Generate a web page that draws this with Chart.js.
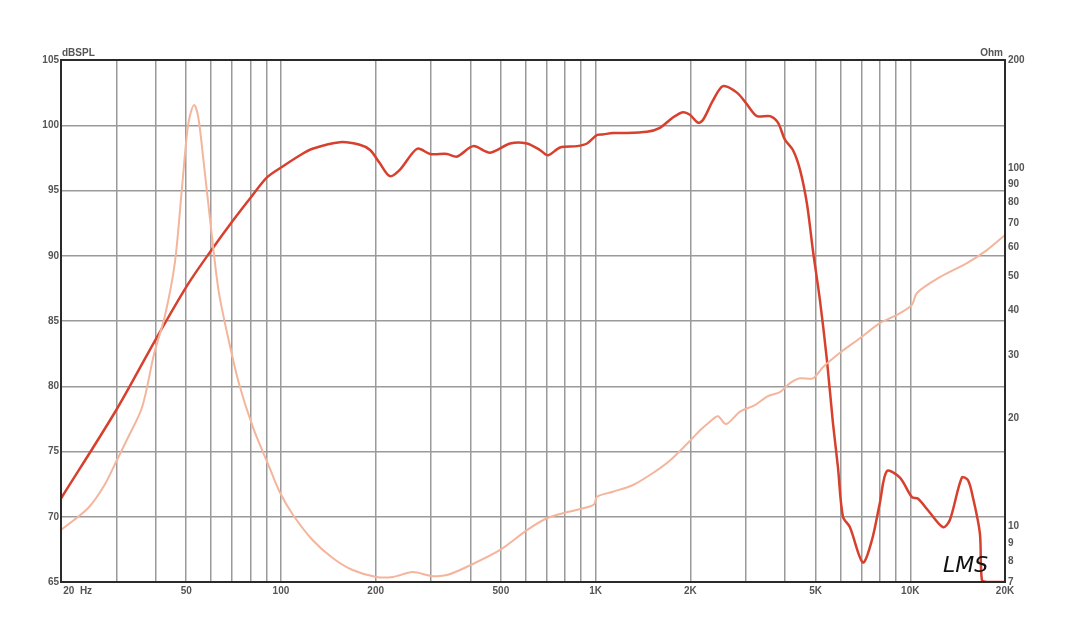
<!DOCTYPE html>
<html>
<head>
<meta charset="utf-8">
<script src="https://cdn.jsdelivr.net/npm/chart.js@4"></script>
<style>
  body { margin: 0; background: #fff; }
  #wrap { width: 1067px; height: 636px; }
</style>
</head>
<body>
<div id="wrap"><canvas id="myChart" width="1067" height="636"></canvas></div>
<script>
// frequency response (dB SPL)
const splFreq = [20, 30, 39.8, 50.6, 60.4, 70.4, 81, 90.3, 100.7, 115, 126, 154, 178, 192, 206, 222, 239, 271, 298, 337, 363, 408, 462, 535, 605, 666, 706, 771, 873, 939, 1010, 1055, 1135, 1195, 1456, 1601, 1761, 1894, 1994, 2114, 2193, 2361, 2539, 2813, 3027, 3256, 3581, 3797, 3996, 4237, 4461, 4694, 4905, 5163, 5434, 5678, 5890, 6110, 6430, 7070, 7550, 8010, 8430, 9270, 10120, 10570, 11380, 12700, 13360, 14590, 15250, 15810, 16640, 16890, 17520, 20000];
const splDb = [71.4, 78.2, 83.5, 87.8, 90.5, 92.7, 94.6, 96.0, 96.8, 97.7, 98.2, 98.7, 98.5, 98.1, 97.1, 96.1, 96.6, 98.2, 97.8, 97.8, 97.6, 98.4, 97.9, 98.6, 98.6, 98.1, 97.7, 98.3, 98.4, 98.6, 99.25, 99.3, 99.4, 99.4, 99.5, 99.8, 100.6, 101.0, 100.8, 100.2, 100.4, 101.9, 103.0, 102.5, 101.6, 100.7, 100.7, 100.2, 98.9, 98.1, 96.6, 94.0, 90.4, 86.6, 82.0, 77.2, 73.8, 70.0, 69.2, 66.5, 68.2, 71.1, 73.5, 73.0, 71.5, 71.4, 70.5, 69.2, 69.75, 73.0, 72.8, 71.5, 68.75, 65.15, 65, 65];

// impedance (Ohm)
const impFreq = [20, 24.4, 27.5, 30.1, 32.6, 36.2, 39.6, 42.7, 46.0, 48.4, 50.3, 51.4, 53.0, 54.6, 56.6, 59.7, 63.3, 68.2, 73.5, 81.5, 91.8, 99, 109, 126, 146, 169, 201, 227, 262, 300, 337, 400, 497, 605, 703, 813, 985, 1010, 1135, 1315, 1522, 1727, 2003, 2157, 2308, 2448, 2596, 2876, 3208, 3528, 3852, 4146, 4461, 4905, 5277, 5977, 6917, 8008, 9069, 10119, 10498, 12420, 15135, 17521, 20000];
const impOhm = [9.77, 11.26, 13.05, 15.3, 17.65, 21.5, 30.5, 38.4, 54.3, 86.8, 125, 140, 149.8, 138.7, 107, 70.2, 45.7, 33.1, 25.1, 18.9, 14.65, 12.5, 10.8, 9.17, 8.17, 7.56, 7.23, 7.23, 7.46, 7.28, 7.32, 7.8, 8.6, 9.77, 10.56, 10.97, 11.48, 12.1, 12.5, 13.05, 14.1, 15.3, 17.4, 18.6, 19.6, 20.3, 19.3, 20.9, 21.8, 23.1, 23.7, 25.1, 25.9, 25.9, 27.8, 30.5, 33.5, 36.9, 38.9, 41.5, 44.8, 49.6, 54.3, 59.0, 65.0];

const freqGrid = [20, 30, 40, 50, 60, 70, 80, 90, 100, 200, 300, 400, 500, 600, 700, 800, 900, 1000, 2000, 3000, 4000, 5000, 6000, 7000, 8000, 9000, 10000, 20000];
// leading spaces push the first label to the right of its tick, as in the original
const freqLabels = {20: '            20  Hz', 50: '50', 100: '100', 200: '200', 500: '500', 1000: '1K', 2000: '2K', 5000: '5K', 10000: '10K', 20000: '20K'};
const ohmTicks = [7, 8, 9, 10, 20, 30, 40, 50, 60, 70, 80, 90, 100, 200];

const splPts = splFreq.map((f, i) => ({x: f, y: splDb[i]}));
const impPts = impFreq.map((f, i) => ({x: f, y: impOhm[i]}));

const tickFont = {family: 'Arial, "Liberation Sans"', size: 10, weight: 'bold'};
const tickColor = '#555';

const extras = {
    id: 'extras',
    afterDraw(chart) {
        const c = chart.ctx;
        const a = chart.chartArea;
        c.save();
        c.strokeStyle = '#2a2a2a';
        c.lineWidth = 2;
        c.strokeRect(a.left, a.top, a.right - a.left, a.bottom - a.top);
        c.fillStyle = tickColor;
        c.font = 'bold 10px Arial, "Liberation Sans"';
        c.textBaseline = 'bottom';
        c.textAlign = 'left';
        c.fillText('dBSPL', a.left + 1, a.top - 2);
        c.textAlign = 'right';
        c.fillText('Ohm', a.right - 2, a.top - 2);
        c.fillStyle = '#111';
        c.font = 'italic 22px "DejaVu Sans", sans-serif';
        c.textAlign = 'left';
        c.textBaseline = 'alphabetic';
        c.fillText('LMS', a.right - 62, a.bottom - 10);
        c.restore();
    }
};

new Chart(document.getElementById('myChart'), {
    type: 'scatter',
    data: {
        datasets: [
            {
                label: 'Impedance',
                data: impPts,
                yAxisID: 'yOhm',
                showLine: true,
                borderColor: '#f4b59c',
                borderWidth: 2,
                pointRadius: 0,
                tension: 0.3
            },
            {
                label: 'SPL',
                data: splPts,
                yAxisID: 'y',
                showLine: true,
                borderColor: '#d8402e',
                borderWidth: 2.5,
                pointRadius: 0,
                tension: 0.3
            }
        ]
    },
    options: {
        responsive: false,
        animation: false,
        layout: {padding: {top: 60, left: 0, right: 0, bottom: 0}},
        plugins: {legend: {display: false}, tooltip: {enabled: false}},
        scales: {
            x: {
                type: 'logarithmic',
                min: 20,
                max: 20000,
                afterBuildTicks: s => { s.ticks = freqGrid.map(v => ({value: v})); },
                afterFit: s => { s.height = 54; },
                grid: {color: '#9a9a9a', lineWidth: 1.5, drawTicks: false},
                border: {color: '#2a2a2a', width: 2},
                ticks: {
                    autoSkip: false,
                    maxRotation: 0,
                    padding: 3,
                    color: tickColor,
                    font: tickFont,
                    callback: v => freqLabels[v] || ''
                }
            },
            y: {
                position: 'left',
                min: 65,
                max: 105,
                afterFit: s => { s.width = 61; },
                grid: {color: '#9a9a9a', lineWidth: 1.5, drawTicks: false},
                border: {color: '#2a2a2a', width: 2},
                ticks: {stepSize: 5, padding: 2, color: tickColor, font: tickFont}
            },
            yOhm: {
                type: 'logarithmic',
                position: 'right',
                min: 7,
                max: 200,
                afterBuildTicks: s => { s.ticks = ohmTicks.map(v => ({value: v})); },
                afterFit: s => { s.width = 62; },
                grid: {display: false, drawTicks: false},
                border: {color: '#2a2a2a', width: 2},
                ticks: {
                    autoSkip: false,
                    padding: 3,
                    color: tickColor,
                    font: tickFont,
                    callback: v => String(v)
                }
            }
        }
    },
    plugins: [extras]
});
</script>
</body>
</html>
